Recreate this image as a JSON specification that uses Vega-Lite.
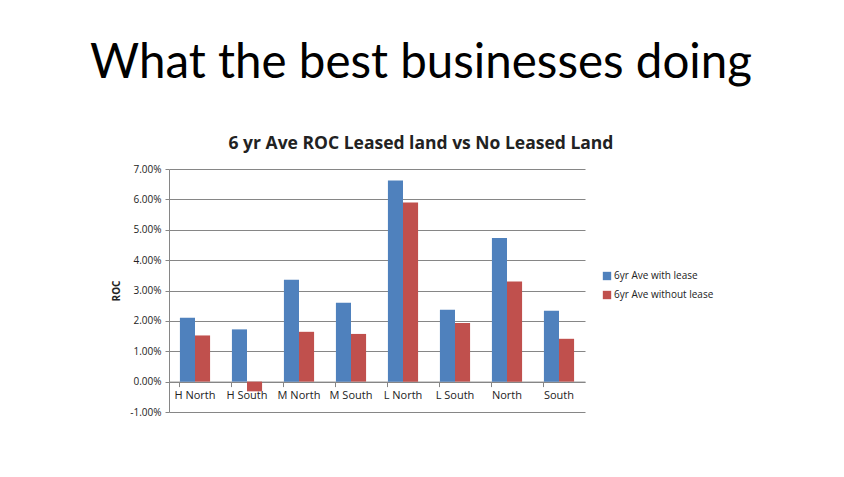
{
  "$schema": "https://vega.github.io/schema/vega-lite/v6.json",
  "width": 416,
  "height": 243,
  "autosize": "none",
  "padding": {"left": 169, "top": 169, "right": 259, "bottom": 65},
  "background": "white",
  "title": {
    "text": "What the best businesses doing",
    "subtitle": "6 yr Ave ROC Leased land vs No Leased Land",
    "anchor": "middle",
    "dx": 44,
    "offset": 12,
    "font": "Lato",
    "fontSize": 47.5,
    "fontWeight": "normal",
    "color": "#000000",
    "subtitleFont": "Open Sans",
    "subtitleFontSize": 17.5,
    "subtitleFontWeight": "bold",
    "subtitleColor": "#222222",
    "subtitlePadding": 47.5
  },
  "data": {
    "values": [
      {"region": "H North", "series": "6yr Ave with lease", "roc": 0.0210},
      {"region": "H North", "series": "6yr Ave without lease", "roc": 0.0152},
      {"region": "H South", "series": "6yr Ave with lease", "roc": 0.0172},
      {"region": "H South", "series": "6yr Ave without lease", "roc": -0.0032},
      {"region": "M North", "series": "6yr Ave with lease", "roc": 0.0335},
      {"region": "M North", "series": "6yr Ave without lease", "roc": 0.0164},
      {"region": "M South", "series": "6yr Ave with lease", "roc": 0.0260},
      {"region": "M South", "series": "6yr Ave without lease", "roc": 0.0157},
      {"region": "L North", "series": "6yr Ave with lease", "roc": 0.0662},
      {"region": "L North", "series": "6yr Ave without lease", "roc": 0.0590},
      {"region": "L South", "series": "6yr Ave with lease", "roc": 0.0237},
      {"region": "L South", "series": "6yr Ave without lease", "roc": 0.0193},
      {"region": "North", "series": "6yr Ave with lease", "roc": 0.0473},
      {"region": "North", "series": "6yr Ave without lease", "roc": 0.0330},
      {"region": "South", "series": "6yr Ave with lease", "roc": 0.0233},
      {"region": "South", "series": "6yr Ave without lease", "roc": 0.0141}
    ]
  },
  "mark": {"type": "bar"},
  "encoding": {
    "x": {
      "field": "region",
      "type": "nominal",
      "sort": null,
      "scale": {"paddingInner": 0.42, "paddingOuter": 0.21},
      "axis": {
        "title": null,
        "labelAngle": 0,
        "labelFont": "Open Sans",
        "labelFontSize": 11,
        "labelColor": "#222222",
        "labelPadding": 3,
        "offset": -30.4,
        "domainColor": "#868686",
        "tickColor": "#868686",
        "tickSize": 5,
        "bandPosition": 0,
        "grid": false
      }
    },
    "xOffset": {"field": "series", "type": "nominal"},
    "y": {
      "field": "roc",
      "type": "quantitative",
      "scale": {"domain": [-0.01, 0.07], "nice": false, "zero": false},
      "axis": {
        "title": "ROC",
        "titleFont": "Open Sans",
        "titleFontSize": 10,
        "titleFontWeight": "bold",
        "titleColor": "#222222",
        "titlePadding": 8,
        "format": ".2%",
        "values": [-0.01, 0, 0.01, 0.02, 0.03, 0.04, 0.05, 0.06, 0.07],
        "labelFont": "Open Sans",
        "labelFontSize": 10,
        "labelColor": "#222222",
        "labelPadding": 4,
        "gridColor": "#868686",
        "gridWidth": 1,
        "domainColor": "#868686",
        "tickColor": "#868686",
        "tickSize": 4
      }
    },
    "color": {
      "field": "series",
      "type": "nominal",
      "scale": {"range": ["#4F81BD", "#C0504D"]},
      "legend": {
        "title": null,
        "orient": "none",
        "legendX": 433,
        "legendY": 102,
        "symbolType": "square",
        "symbolSize": 70,
        "symbolStrokeWidth": 0,
        "labelFont": "Open Sans",
        "labelFontSize": 10,
        "labelColor": "#222222",
        "rowPadding": 9,
        "labelOffset": 2
      }
    }
  },
  "config": {
    "view": {"stroke": null},
    "locale": {
      "number": {
        "decimal": ".",
        "thousands": ",",
        "grouping": [3],
        "currency": ["$", ""],
        "minus": "-"
      }
    }
  }
}
